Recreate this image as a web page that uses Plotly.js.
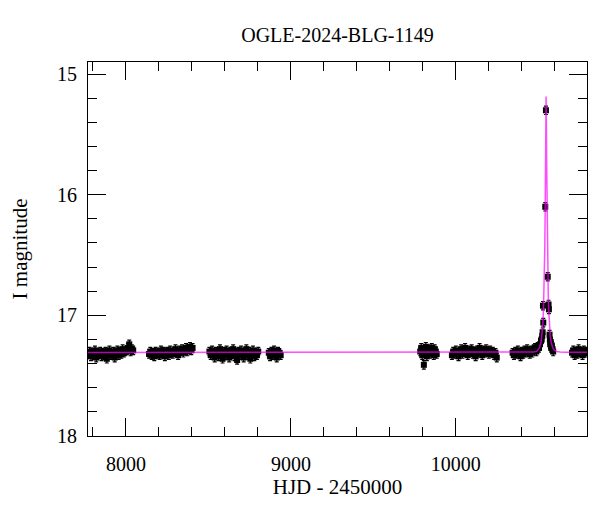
<!DOCTYPE html>
<html>
<head>
<meta charset="utf-8">
<script src="https://cdn.plot.ly/plotly-3.0.1.min.js"></script>
<style>html,body{margin:0;padding:0;background:#fff;}#chart{width:600px;height:512px;}</style>
</head>
<body>
<div id="chart"></div>
<script>
var t1 = [7772,7780,7788,7796,7804,7812,7820,7828,7836,7844,7852,7860,7868,7876,7884,7892,7900,7908,7916,7924,7932,7940,7948,7956,7964,7972,7980,7988,7996,8004,8012,8020,8028,8036,8044];
var m1 = [17.32,17.30,17.34,17.31,17.33,17.29,17.35,17.31,17.32,17.30,17.34,17.31,17.33,17.30,17.36,17.31,17.29,17.33,17.32,17.30,17.35,17.31,17.29,17.33,17.30,17.32,17.28,17.31,17.30,17.29,17.27,17.24,17.30,17.28,17.29];
var t2 = [8140,8148,8156,8164,8172,8180,8188,8196,8204,8212,8220,8228,8236,8244,8252,8260,8268,8276,8284,8292,8300,8308,8316,8324,8332,8340,8348,8356,8364,8372,8380,8388,8396,8404];
var m2 = [17.32,17.30,17.33,17.31,17.34,17.30,17.32,17.31,17.33,17.29,17.32,17.30,17.34,17.31,17.30,17.33,17.29,17.31,17.32,17.30,17.28,17.31,17.33,17.29,17.30,17.28,17.31,17.29,17.27,17.30,17.28,17.26,17.29,17.27];
var t3 = [8506,8514,8522,8530,8538,8546,8554,8562,8570,8578,8586,8594,8602,8610,8618,8626,8634,8642,8650,8658,8666,8674,8682,8690,8698,8706,8714,8722,8730,8738,8746,8754,8762,8770,8778,8786,8794,8802];
var m3 = [17.30,17.33,17.29,17.32,17.35,17.30,17.31,17.34,17.28,17.32,17.36,17.30,17.33,17.29,17.31,17.35,17.30,17.32,17.28,17.34,17.31,17.37,17.30,17.33,17.29,17.32,17.35,17.31,17.28,17.33,17.30,17.36,17.32,17.29,17.34,17.31,17.33,17.30];
var t4 = [8866,8874,8882,8890,8898,8906,8914,8922,8930,8938];
var m4 = [17.31,17.34,17.30,17.33,17.29,17.32,17.35,17.30,17.31,17.33];
var t5 = [9784,9790,9796,9802,9806,9812,9818,9824,9830,9836,9842,9848,9854,9860,9866,9872,9878,9884];
var m5 = [17.30,17.27,17.33,17.29,17.41,17.31,17.26,17.34,17.30,17.28,17.32,17.29,17.27,17.31,17.33,17.28,17.30,17.32];
var t6 = [9976,9984,9992,10000,10008,10016,10024,10032,10040,10048,10056,10064,10072,10080,10088,10096,10104,10112,10120,10128,10136,10144,10152,10160,10168,10176,10184,10192,10200,10208,10216,10224,10232,10240,10248];
var m6 = [17.33,17.30,17.32,17.29,17.31,17.34,17.30,17.28,17.32,17.30,17.27,17.31,17.33,17.29,17.30,17.28,17.32,17.30,17.34,17.29,17.31,17.27,17.30,17.33,17.29,17.31,17.28,17.30,17.32,17.29,17.31,17.30,17.33,17.31,17.35];
var t7 = [10344,10352,10360,10368,10376,10384,10392,10400,10408,10416,10424,10432,10440,10448,10456,10464,10472,10480,10488,10496,10504,10510,10516,10520,10524,10526];
var m7 = [17.31,17.33,17.30,17.32,17.29,17.31,17.34,17.30,17.32,17.29,17.31,17.28,17.30,17.32,17.29,17.31,17.28,17.27,17.30,17.26,17.27,17.24,17.21,17.20,17.17,17.14];
var tPeak = [10528,10530,10542,10546,10557,10562,10564,10568,10570,10572,10575,10578,10582,10586,10590];
var mPeak = [16.92,17.06,16.10,15.30,16.68,16.91,16.95,17.16,17.20,17.24,17.22,17.27,17.25,17.28,17.30];
var t8 = [10704,10712,10720,10728,10736,10744,10752,10760,10768,10776,10784,10792];
var m8 = [17.31,17.29,17.33,17.30,17.32,17.28,17.31,17.30,17.33,17.29,17.31,17.30];

// Model light curve (magenta)
var tModel = [7700,10440,10470,10490,10497,10507,10517,10522,10527,10531,10534,10537,10539,10541,10543,10544,10545,10546,10547,10548,10549,10550,10551,10553,10555,10557,10560,10563,10567,10572,10577,10587,10597,10612,10632,10667,10900];
var mModel = [17.307,17.306,17.304,17.299,17.288,17.268,17.218,17.166,17.077,16.959,16.824,16.627,16.445,16.202,15.877,15.677,15.462,15.270,15.187,15.270,15.462,15.677,15.877,16.202,16.445,16.627,16.824,16.959,17.077,17.166,17.218,17.268,17.288,17.299,17.304,17.306,17.307];

var xTicks = [8000,9000,10000];
var yTicks = [15,16,17,18];

var tAll = [].concat(t1,t2,t3,t4,t5,t6,t7,tPeak,t8);
var mAll = [].concat(m1,m2,m3,m4,m5,m6,m7,mPeak,m8);

var FONT = 'Liberation Serif, Times New Roman, serif';

var traces = [
  {
    x: tAll, y: mAll, type: 'scatter', mode: 'markers',
    marker: {color: '#000', size: 6, symbol: 'square'},
    error_y: {type: 'constant', value: 0.035, color: '#000', thickness: 1.2, width: 2},
    cliponaxis: true, hoverinfo: 'skip'
  },
  {
    x: tModel, y: mModel, type: 'scatter', mode: 'lines',
    line: {color: 'rgba(255,0,255,0.7)', width: 1.5},
    hoverinfo: 'skip'
  }
];

var axisCommon = {
  showline: true, linecolor: '#000', linewidth: 1, mirror: 'ticks',
  ticks: 'inside', tickcolor: '#000', tickwidth: 1, ticklen: 18,
  showgrid: false, zeroline: false,
  tickfont: {family: FONT, size: 20, color: '#000'}
};

var layout = {
  width: 600, height: 512,
  margin: {l: 88, r: 13, t: 62, b: 76},
  paper_bgcolor: '#fff', plot_bgcolor: '#fff',
  showlegend: false,
  font: {family: FONT, color: '#000'},
  title: {text: 'OGLE-2024-BLG-1149', font: {family: FONT, size: 20, color: '#000'},
          x: 0.5625, xref: 'container', xanchor: 'center', y: 1 - 35/512, yref: 'container', yanchor: 'middle'},
  xaxis: Object.assign({}, axisCommon, {
    range: [7770, 10795], tickvals: xTicks, ticktext: xTicks.map(String),
    ticklabelstandoff: 10,
    minor: {dtick: 200, tick0: 0, ticks: 'inside', ticklen: 9, tickcolor: '#000', tickwidth: 1},
    title: {text: 'HJD - 2450000', font: {family: FONT, size: 21, color: '#000'}, standoff: 2}
  }),
  yaxis: Object.assign({}, axisCommon, {
    range: [18, 14.9], tickvals: yTicks, ticktext: yTicks.map(String),
    ticklabelstandoff: 6,
    minor: {dtick: 0.2, tick0: 0, ticks: 'inside', ticklen: 9, tickcolor: '#000', tickwidth: 1},
    title: {text: 'I magnitude', font: {family: FONT, size: 21, color: '#000'}, standoff: 23}
  })
};

Plotly.newPlot('chart', traces, layout, {displayModeBar: false, staticPlot: true});
</script>
</body>
</html>
